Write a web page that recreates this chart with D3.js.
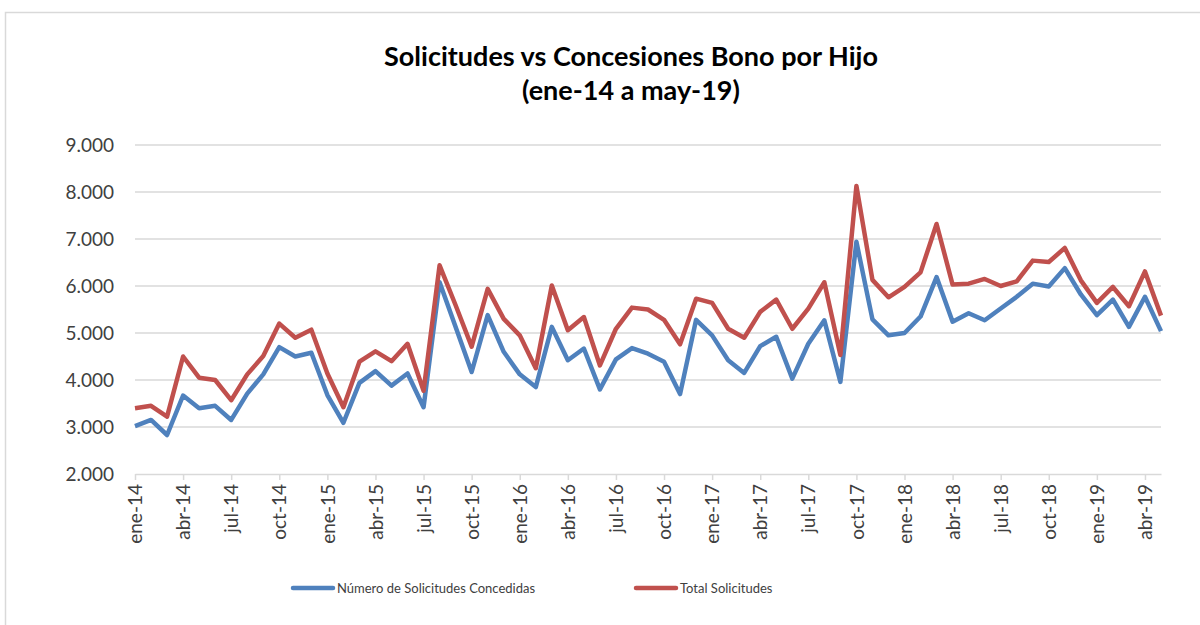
<!DOCTYPE html>
<html>
<head>
<meta charset="utf-8">
<script src="https://cdn.jsdelivr.net/npm/d3@7"></script>
<style>
  body { margin: 0; background: #fff; }
  svg { font-family: Lato, "Open Sans", "Liberation Sans", sans-serif; }
</style>
</head>
<body>
<div id="chart"></div>
<script>
// month names and years used for the category labels
let monthNames = ["ene", "feb", "mar", "abr", "may", "jun", "jul", "ago", "sep", "oct", "nov", "dic"];
let years = ["14", "15", "16", "17", "18", "19"];
let yTicks = [2000, 3000, 4000, 5000, 6000, 7000, 8000, 9000];

// Número de Solicitudes Concedidas (ene-14 .. may-19)
let concedidas = [
  3020, 3150, 2830, 3670, 3400, 3450, 3150, 3710, 4120, 4700, 4500, 4580,
  3680, 3090, 3940, 4190, 3880, 4140, 3420, 6080, 5130, 4170, 5380, 4600,
  4120, 3850, 5130, 4420, 4670, 3800, 4440, 4680, 4560, 4390, 3700, 5280,
  4950, 4420, 4150, 4720, 4920, 4030, 4770, 5270, 3960, 6940, 5290, 4950,
  5000, 5350, 6190, 5240, 5420, 5270, 5520, 5770, 6050, 5990, 6380, 5820,
  5380, 5710, 5130, 5770, 5040
];

// Total Solicitudes
let totalSolicitudes = [
  3400, 3450, 3220, 4500, 4050, 4000, 3570, 4120, 4510, 5200, 4900, 5070,
  4140, 3420, 4390, 4610, 4400, 4770, 3770, 6440, 5590, 4710, 5940, 5300,
  4950, 4250, 6010, 5060, 5340, 4310, 5090, 5540, 5500, 5280, 4760, 5730,
  5640, 5090, 4900, 5450, 5710, 5090, 5520, 6080, 4530, 8130, 6130, 5760,
  5980, 6290, 7320, 6030, 6050, 6150, 6000, 6100, 6540, 6510, 6810, 6120,
  5640, 5980, 5570, 6310, 5370
];

let categories = [];
years.forEach(y => monthNames.forEach(m => categories.push(m + "-" + y)));
categories = categories.slice(0, concedidas.length);

let svgWidth = 1200;
let svgHeight = 625;

let svg = d3.select("#chart")
  .append("svg")
  .attr("width", svgWidth)
  .attr("height", svgHeight);

// chart border (only top/left visible in the crop)
svg.append("rect")
  .attr("x", 5.5)
  .attr("y", 12.5)
  .attr("width", 1300)
  .attr("height", 700)
  .attr("fill", "none")
  .attr("stroke", "#d9d9d9")
  .attr("stroke-width", 1.5);

let xScale = d3.scalePoint()
  .domain(categories)
  .range([135, 1161]);

let yScale = d3.scaleLinear()
  .domain([2000, 9000])
  .range([474, 145]);

// gridlines
svg.append("g")
  .selectAll("line")
  .data(yTicks.slice(1))
  .enter()
  .append("line")
  .attr("x1", 135)
  .attr("x2", 1161)
  .attr("y1", d => yScale(d))
  .attr("y2", d => yScale(d))
  .attr("stroke", "#d9d9d9")
  .attr("stroke-width", 1.5);

// y axis labels
let fmt = d => d3.format(",")(d).replace(/,/g, ".");
let yAxis = svg.append("g")
  .attr("transform", "translate(135,0)")
  .call(d3.axisLeft(yScale).tickValues(yTicks).tickFormat(fmt).tickSize(0).tickPadding(21));
yAxis.select(".domain").remove();
yAxis.selectAll("text")
  .attr("font-size", 19)
  .attr("fill", "#404040")
  .attr("font-family", "Lato, 'Open Sans', sans-serif");

// x axis
let xAxis = svg.append("g")
  .attr("transform", "translate(0,474)")
  .call(d3.axisBottom(xScale)
    .tickValues(categories.filter((d, i) => i % 3 === 0))
    .tickSize(6)
    .tickSizeOuter(0));
xAxis.select(".domain")
  .attr("stroke", "#d9d9d9")
  .attr("stroke-width", 1.5);
xAxis.selectAll(".tick line")
  .attr("stroke", "#d9d9d9")
  .attr("stroke-width", 1.5);
xAxis.selectAll("text")
  .attr("font-size", 19)
  .attr("fill", "#404040")
  .attr("font-family", "Lato, 'Open Sans', sans-serif")
  .style("text-anchor", "end")
  .attr("transform", "rotate(-90)")
  .attr("x", -10)
  .attr("y", 0)
  .attr("dy", "0.35em");

// lines
let series = [
  { name: "Número de Solicitudes Concedidas", values: concedidas, color: "#4f81bd" },
  { name: "Total Solicitudes", values: totalSolicitudes, color: "#c0504d" }
];

let line = d3.line()
  .x((d, i) => xScale(categories[i]))
  .y(d => yScale(d));

svg.append("g")
  .selectAll("path")
  .data(series)
  .enter()
  .append("path")
  .attr("d", d => line(d.values))
  .attr("fill", "none")
  .attr("stroke", d => d.color)
  .attr("stroke-width", 4.5)
  .attr("stroke-linejoin", "round");

// title
let title = svg.append("text")
  .attr("x", 631)
  .attr("text-anchor", "middle")
  .attr("font-weight", "bold")
  .attr("font-size", 27)
  .attr("fill", "#000");
title.append("tspan").attr("x", 631).attr("y", 66).text("Solicitudes vs Concesiones Bono por Hijo");
title.append("tspan").attr("x", 631).attr("y", 100).text("(ene-14 a may-19)");

// legend
let legendX = [293, 636];
let legend = svg.append("g")
  .selectAll("g")
  .data(series)
  .enter()
  .append("g")
  .attr("transform", (d, i) => `translate(${legendX[i]}, 588)`);

legend.append("line")
  .attr("x1", 0)
  .attr("x2", 40)
  .attr("stroke", d => d.color)
  .attr("stroke-width", 4.5)
  .attr("stroke-linecap", "round");

legend.append("text")
  .attr("x", 44)
  .attr("dy", "0.35em")
  .attr("font-size", 13)
  .attr("fill", "#404040")
  .text(d => d.name);
</script>
</body>
</html>
